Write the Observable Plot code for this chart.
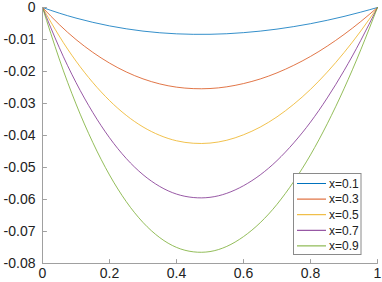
<!DOCTYPE html>
<html>
<head>
<meta charset="utf-8">
<script src="https://cdn.jsdelivr.net/npm/d3@7"></script>
<script src="https://cdn.jsdelivr.net/npm/@observablehq/plot@0.6"></script>
<style>
  html, body { margin: 0; padding: 0; background: #fff; }
  svg { display: block; }
</style>
</head>
<body>
<div id="chart"></div>
<script>
const t = [0, 0.05, 0.1, 0.15, 0.2, 0.25, 0.3, 0.35, 0.4, 0.45, 0.5, 0.55, 0.6, 0.65, 0.7, 0.75, 0.8, 0.85, 0.9, 0.95, 1];
const seriesNames = ["x=0.1", "x=0.3", "x=0.5", "x=0.7", "x=0.9"];
const x01 = [0, -0.00176, -0.00331, -0.00463, -0.00575, -0.00666, -0.00738, -0.00790, -0.00823, -0.00838, -0.00837, -0.00820, -0.00786, -0.00738, -0.00675, -0.00597, -0.00506, -0.00399, -0.00279, -0.00145, 0];
const x03 = [0, -0.00533, -0.01001, -0.01400, -0.01737, -0.02014, -0.02230, -0.02388, -0.02489, -0.02535, -0.02532, -0.02479, -0.02377, -0.02233, -0.02042, -0.01806, -0.01529, -0.01207, -0.00843, -0.00439, 0];
const x05 = [0, -0.00893, -0.01675, -0.02342, -0.02907, -0.03370, -0.03732, -0.03995, -0.04165, -0.04242, -0.04237, -0.04148, -0.03978, -0.03736, -0.03417, -0.03022, -0.02559, -0.02019, -0.01411, -0.00735, 0];
const x07 = [0, -0.01250, -0.02344, -0.03278, -0.04070, -0.04718, -0.05224, -0.05593, -0.05831, -0.05938, -0.05932, -0.05807, -0.05569, -0.05230, -0.04784, -0.04230, -0.03582, -0.02826, -0.01975, -0.01029, 0];
const x09 = [0, -0.01607, -0.03014, -0.04215, -0.05233, -0.06066, -0.06717, -0.07191, -0.07497, -0.07635, -0.07627, -0.07466, -0.07160, -0.06724, -0.06151, -0.05439, -0.04605, -0.03634, -0.02540, -0.01323, 0];
const xTicks = [0, 0.2, 0.4, 0.6, 0.8, 1];
const yTicks = [0, -0.01, -0.02, -0.03, -0.04, -0.05, -0.06, -0.07, -0.08];
const colors = ["#0072BD", "#D95319", "#EDB120", "#7E2F8E", "#77AC30"];

const allSeries = [x01, x03, x05, x07, x09];
const rows = [];
allSeries.forEach((vals, s) => vals.forEach((v, i) => rows.push({t: t[i], y: v, name: seriesNames[s]})));

const tickShape = {draw(ctx, l) { ctx.moveTo(0, 0); ctx.lineTo(0, -l); }};
const axisColor = "#a0a0a0";
const font = "'Liberation Sans', Arial, Helvetica, sans-serif";

const plot = Plot.plot({
  width: 382,
  height: 282,
  marginLeft: 42,
  marginRight: 5,
  marginTop: 7,
  marginBottom: 19,
  style: {fontFamily: font, fontSize: "14px", background: "#fff", color: "#222"},
  x: {domain: [0, 1]},
  y: {domain: [-0.08, 0]},
  color: {domain: seriesNames, range: colors},
  marks: [
    Plot.line(rows, {x: "t", y: "y", z: "name", stroke: "name", strokeWidth: 0.8, curve: "natural"}),
    Plot.ruleX([0], {stroke: axisColor, strokeWidth: 1}),
    Plot.ruleY([-0.08], {stroke: axisColor, strokeWidth: 1}),
    Plot.vector(xTicks, {x: d => d, frameAnchor: "bottom", length: 4, anchor: "start", shape: tickShape, stroke: axisColor, strokeWidth: 1}),
    Plot.vector(yTicks, {y: d => d, frameAnchor: "left", rotate: 90, length: 4, anchor: "start", shape: tickShape, stroke: axisColor, strokeWidth: 1}),
    Plot.axisX({ticks: xTicks, tickSize: 0, tickPadding: 5, tickFormat: d => String(d), label: null, fontSize: 14}),
    Plot.axisY({ticks: yTicks, tickSize: 0, tickPadding: 7, tickFormat: d => d === 0 ? "0" : d.toFixed(2), label: null, fontSize: 14})
  ]
});

// legend box inside the plot area
const svg = d3.select(plot);
const lg = svg.append("g").attr("font-family", font).attr("font-size", 12).attr("text-anchor", "start");
const bx = 293.5, by = 173.5, bw = 67.5, bh = 81, rowH = 15.6, firstRow = 183.5;
lg.append("rect").attr("x", bx).attr("y", by).attr("width", bw).attr("height", bh)
  .attr("fill", "#fff").attr("stroke", "#8a8a8a").attr("stroke-width", 1);
seriesNames.forEach((n, i) => {
  const yy = firstRow + i * rowH;
  lg.append("line").attr("x1", bx + 3.5).attr("x2", bx + 32.5).attr("y1", yy).attr("y2", yy)
    .attr("stroke", colors[i]).attr("stroke-width", 1);
  lg.append("text").attr("x", bx + 35.5).attr("y", yy).attr("dy", "0.35em")
    .attr("text-anchor", "start").attr("fill", "#222").text(n);
});

document.getElementById("chart").appendChild(plot);
</script>
</body>
</html>
